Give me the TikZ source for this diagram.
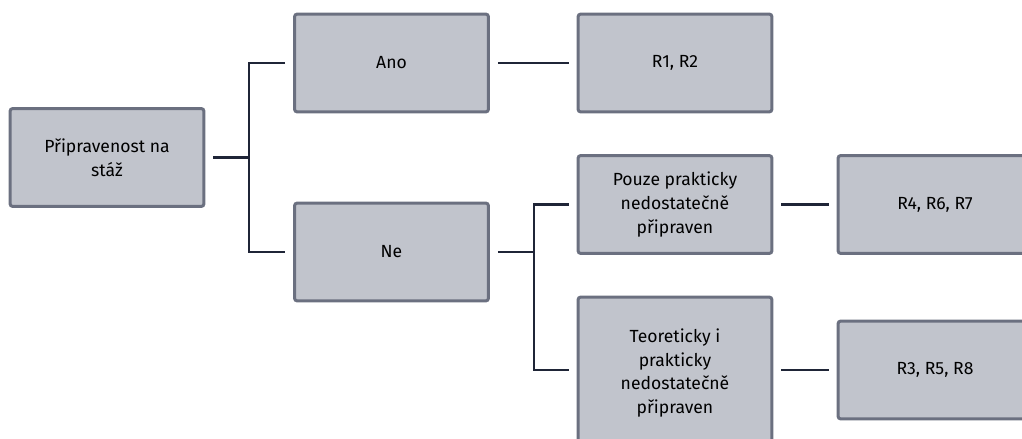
\documentclass[tikz,border=0pt]{standalone}
\usepackage{fontspec}
\setmainfont{Fira Sans}
\usepackage{xcolor}
\usetikzlibrary{positioning,calc}
\definecolor{dtfill}{HTML}{C1C4CC}
\definecolor{dtedge}{HTML}{6B7080}
\definecolor{dtink}{HTML}{1F2537}
\tikzset{
dtbox/.style={rectangle,rounded corners=1.6pt,draw=dtedge,fill=dtfill,line width=1.7pt,align=center,inner sep=2pt,minimum width=3.88cm,minimum height=1.96cm,text=black,font=\fontsize{10}{13.6}\selectfont},
dttall/.style={dtbox,minimum height=3.04cm},
dtline/.style={draw=dtink,line width=1.4pt,shorten <=4.5pt,shorten >=4.5pt},
dtstem/.style={draw=dtink,line width=1.4pt,shorten <=4.5pt}
}
\begin{document}
\begin{tikzpicture}[x=0.02cm,y=-0.02cm]
\useasboundingbox (0,0) rectangle (1022,439);
\clip (0,0) rectangle (1022,439);
\node[dtbox] (root) at (107,157.5) {Připravenost na\\stáž};
\node[dtbox] (ano) at (391.5,63) {Ano};
\node[dtbox] (ne) at (391.5,252) {Ne};
\node[dtbox] (rano) at (675,63) {R1, R2};
\node[dtbox] (pouze) at (675,204.5) {Pouze prakticky\\nedostatečně\\připraven};
\node[dttall] (teor) at (675,373) {Teoreticky i\\prakticky\\nedostatečně\\připraven};
\node[dtbox] (rpouze) at (935,204.5) {R4, R6, R7};
\node[dtbox] (rteor) at (935,370) {R3, R5, R8};
\coordinate (split1) at (249,157.5);
\coordinate (split2) at (534,252);
\draw[dtstem] (root) -- (split1);
\draw[dtline] (ano) -| (split1) |- (ne);
\draw[dtline] (ano) -- (rano);
\draw[dtstem] (ne) -- (split2);
\draw[dtline] (pouze) -| (split2) |- (teor.west |- rteor);
\draw[dtline] (pouze) -- (rpouze);
\draw[dtline] (teor.east |- rteor) -- (rteor);
\end{tikzpicture}
\end{document}
